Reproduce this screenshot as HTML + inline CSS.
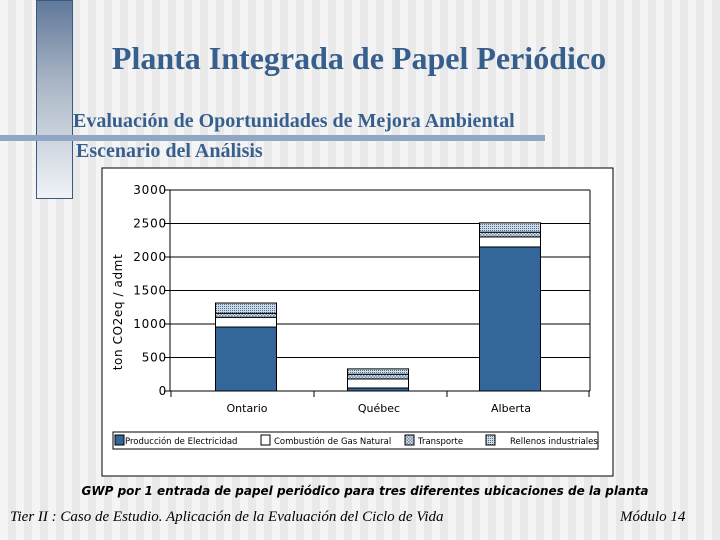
<!DOCTYPE html>
<html><head><meta charset="utf-8"><style>
body{margin:0;width:720px;height:540px;overflow:hidden;font-family:"Liberation Sans",sans-serif;
background:repeating-linear-gradient(90deg,#f4f4f4 0 8px,#e9e9e9 8px 16px);position:relative}
.abs{position:absolute}
</style></head><body>
<div class="abs" style="left:36px;top:0;width:35px;height:197px;border:1px solid #3a5a80;background:linear-gradient(#60789a,#a8b4c4 40%,#f0f3f7)"></div>
<div class="abs" style="left:0;top:135px;width:545px;height:6px;background:#8fa6c4"></div>
<div class="abs" style="left:0;top:40px;width:718px;text-align:center;font:bold 32px 'Liberation Serif',serif;color:#365f8e">Planta Integrada de Papel Periódico</div>
<div class="abs" style="left:73px;top:110px;font:bold 20px 'Liberation Serif',serif;color:#365f8e">Evaluación de Oportunidades de Mejora Ambiental</div>
<div class="abs" style="left:76px;top:140px;font:bold 20px 'Liberation Serif',serif;color:#365f8e">Escenario del Análisis</div>
<svg class="abs" style="left:0;top:0" width="720" height="540">
<defs><pattern id="hat" width="3" height="3" patternUnits="userSpaceOnUse"><rect width="3" height="3" fill="#dfe8f0"/><rect width="1.5" height="1.5" fill="#6a8aa8"/><rect x="1.5" y="1.5" width="1.5" height="1.5" fill="#6a8aa8"/></pattern>
<pattern id="hat2" width="2" height="2" patternUnits="userSpaceOnUse"><rect width="2" height="2" fill="#cfdbe6"/><rect width="1" height="1" fill="#4d6f92"/></pattern></defs>
<rect x="102" y="168" width="511" height="308" fill="#fff" stroke="#000"/>
<g id="plot"></g>
<text x="0" y="0" transform="translate(122,312) rotate(-90)" text-anchor="middle" font-size="12" letter-spacing="0.6" font-family="DejaVu Sans">ton CO2eq / admt</text>
</svg>
<div class="abs" style="left:0;top:484px;width:730px;text-align:center;font:bold italic 12px 'DejaVu Sans',sans-serif">GWP por 1 entrada de papel periódico para tres diferentes ubicaciones de la planta</div>
<div class="abs" style="left:10px;top:509px;font:italic 15px 'Liberation Serif',serif">Tier II : Caso de Estudio. Aplicación de la Evaluación del Ciclo de Vida</div>
<div class="abs" style="left:620px;top:509px;font:italic 15px 'Liberation Serif',serif">Módulo 14</div>
<script>
const categories=["Ontario","Québec","Alberta"];
const electricidad=[955,45,2150];
const gasNatural=[145,135,150];
const transporte=[60,70,70];
const rellenos=[153,80,140];
const yTicks=[0,500,1000,1500,2000,2500,3000];
const seriesNames=["Producción de Electricidad","Combustión de Gas Natural","Transporte","Rellenos industriales"];
const NS="http://www.w3.org/2000/svg";
const g=document.getElementById('plot');
const x0=170,x1=590,yb=391,yt=190;
const y=v=>yb-(v/3000)*(yb-yt);
const xc=i=>246+132*i;
function mk(t,a){const e=document.createElementNS(NS,t);for(const k in a)e.setAttribute(k,a[k]);g.appendChild(e);return e;}
yTicks.forEach(t=>{
 const l=mk('line',{x1:x0-6,x2:x1,y1:y(t),y2:y(t),stroke:'#000'});
 
 
 const tx=mk('text',{x:x0-3,y:y(t)+4,'text-anchor':'end','font-size':12,'letter-spacing':'0.8','font-family':'DejaVu Sans'});
 tx.textContent=t;
 
 
});
const ax=mk('line',{x1:x0,x2:x0,y1:yt,y2:yb,stroke:'#000'});


const r=mk('line',{x1:x1,x2:x1,y1:yt,y2:yb,stroke:'#000'});


[171,314,447,589].forEach(px=>{const tk=mk('line',{x1:px,x2:px,y1:yb,y2:yb+6,stroke:'#000'});
 
 });
const fills=['#336699','#ffffff','url(#hat)','url(#hat2)'];
const series=[electricidad,gasNatural,transporte,rellenos];
categories.forEach((c,i)=>{
 let acc=0;
 series.forEach((s,k)=>{
  const b=mk('rect',{x:xc(i)-30.5,width:61,y:y(acc+s[i]),height:y(acc)-y(acc+s[i]),fill:fills[k],stroke:'#000','stroke-width':1});
  
  
  acc+=s[i];
 });
 const tx=mk('text',{x:xc(i)+1,y:412,'text-anchor':'middle','font-size':11,'font-family':'DejaVu Sans'});
 tx.textContent=c;
 
 
});
const lg=mk('rect',{x:113,y:432,width:485,height:17,fill:'#fff',stroke:'#000'});


const lx=[115,261,405,486],tx2=[125,274,418,510];
seriesNames.forEach((n,k)=>{
 const s=mk('rect',{x:lx[k],y:435,width:9,height:10,fill:fills[k],stroke:'#000'});
 
 
 const t=mk('text',{x:tx2[k],y:444,'font-size':8.5,'font-family':'DejaVu Sans'});
 t.textContent=n;
 
 
});
</script>
</body></html>
